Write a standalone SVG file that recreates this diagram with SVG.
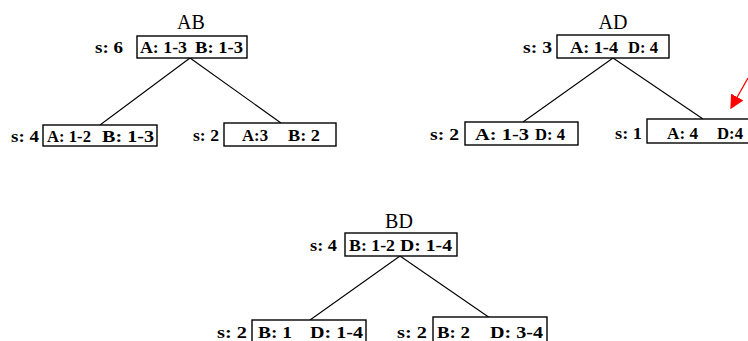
<svg xmlns="http://www.w3.org/2000/svg" width="748" height="341" viewBox="0 0 748 341">
  <style>
    .box { fill: #fff; stroke: #000; stroke-width: 1.4; }
    .lbl { font-family: "Liberation Serif", "Times New Roman", serif; font-size: 17px; font-weight: bold; fill: #000; }
    .ttl { font-family: "Liberation Serif", "Times New Roman", serif; font-size: 20px; fill: #000; text-anchor: middle; }
    .edge { stroke: #000; stroke-width: 1.1; fill: none; }
  </style>
  <defs>
    <marker id="redhead" viewBox="0 0 10 10" refX="9" refY="5" markerWidth="14" markerHeight="14" markerUnits="userSpaceOnUse" orient="auto">
      <path d="M0,0 L10,5 L0,10 z" fill="#ff0000"/>
    </marker>
  </defs>
  <rect width="748" height="341" fill="#fff"/>

  <!-- connectors -->
  <g id="edges">
    <line class="edge" x1="190" y1="58" x2="100" y2="125"/>
    <line class="edge" x1="190" y1="58" x2="281" y2="123"/>
    <line class="edge" x1="613" y1="58" x2="523" y2="122"/>
    <line class="edge" x1="613" y1="58" x2="703" y2="119"/>
    <line class="edge" x1="400" y1="256" x2="310" y2="320"/>
    <line class="edge" x1="400" y1="256" x2="490" y2="318"/>
    <line x1="748" y1="78" x2="731" y2="108" stroke="#ff0000" stroke-width="1.3" marker-end="url(#redhead)"/>
  </g>

  <!-- tree AB -->
  <g id="ab-title"><text class="ttl" x="191" y="29">AB</text></g>
  <g id="ab-root">
    <text class="lbl" x="95" y="53" textLength="28" lengthAdjust="spacingAndGlyphs">s: 6</text>
    <rect class="box" x="137" y="36" width="110" height="22"/>
    <text class="lbl" x="140" y="53" textLength="47" lengthAdjust="spacingAndGlyphs">A: 1-3</text>
    <text class="lbl" x="195" y="53" textLength="48" lengthAdjust="spacingAndGlyphs">B: 1-3</text>
  </g>
  <g id="ab-left">
    <text class="lbl" x="11" y="142" textLength="28" lengthAdjust="spacingAndGlyphs">s: 4</text>
    <rect class="box" x="43" y="125" width="114" height="21"/>
    <text class="lbl" x="47" y="142" textLength="44" lengthAdjust="spacingAndGlyphs">A: 1-2</text>
    <text class="lbl" x="102" y="142" textLength="52" lengthAdjust="spacingAndGlyphs">B: 1-3</text>
  </g>
  <g id="ab-right">
    <text class="lbl" x="193" y="141" textLength="26" lengthAdjust="spacingAndGlyphs">s: 2</text>
    <rect class="box" x="224" y="123" width="112" height="23"/>
    <text class="lbl" x="242" y="141" textLength="26" lengthAdjust="spacingAndGlyphs">A:3</text>
    <text class="lbl" x="288" y="141" textLength="32" lengthAdjust="spacingAndGlyphs">B: 2</text>
  </g>

  <!-- tree AD -->
  <g id="ad-title"><text class="ttl" x="613" y="29">AD</text></g>
  <g id="ad-root">
    <text class="lbl" x="523" y="53" textLength="29" lengthAdjust="spacingAndGlyphs">s: 3</text>
    <rect class="box" x="557" y="35" width="112" height="23"/>
    <text class="lbl" x="570" y="53" textLength="48" lengthAdjust="spacingAndGlyphs">A: 1-4</text>
    <text class="lbl" x="628" y="53" textLength="30" lengthAdjust="spacingAndGlyphs">D: 4</text>
  </g>
  <g id="ad-left">
    <text class="lbl" x="430" y="140" textLength="29" lengthAdjust="spacingAndGlyphs">s: 2</text>
    <rect class="box" x="465" y="122" width="113" height="23"/>
    <text class="lbl" x="475" y="140" textLength="54" lengthAdjust="spacingAndGlyphs">A: 1-3</text>
    <text class="lbl" x="535" y="140" textLength="30" lengthAdjust="spacingAndGlyphs">D: 4</text>
  </g>
  <g id="ad-right">
    <text class="lbl" x="615" y="139" textLength="27" lengthAdjust="spacingAndGlyphs">s: 1</text>
    <rect class="box" x="647" y="119" width="110" height="24"/>
    <text class="lbl" x="667" y="139" textLength="31" lengthAdjust="spacingAndGlyphs">A: 4</text>
    <text class="lbl" x="717" y="139" textLength="26" lengthAdjust="spacingAndGlyphs">D:4</text>
  </g>

  <!-- tree BD -->
  <g id="bd-title"><text class="ttl" x="399" y="228">BD</text></g>
  <g id="bd-root">
    <text class="lbl" x="310" y="251" textLength="27" lengthAdjust="spacingAndGlyphs">s: 4</text>
    <rect class="box" x="345" y="233" width="112" height="23"/>
    <text class="lbl" x="349" y="251" textLength="46" lengthAdjust="spacingAndGlyphs">B: 1-2</text>
    <text class="lbl" x="400" y="251" textLength="52" lengthAdjust="spacingAndGlyphs">D: 1-4</text>
  </g>
  <g id="bd-left">
    <text class="lbl" x="217" y="338" textLength="30" lengthAdjust="spacingAndGlyphs">s: 2</text>
    <rect class="box" x="252" y="320" width="114" height="30"/>
    <text class="lbl" x="258" y="338" textLength="34" lengthAdjust="spacingAndGlyphs">B: 1</text>
    <text class="lbl" x="310" y="338" textLength="53" lengthAdjust="spacingAndGlyphs">D: 1-4</text>
  </g>
  <g id="bd-right">
    <text class="lbl" x="397" y="338" textLength="30" lengthAdjust="spacingAndGlyphs">s: 2</text>
    <rect class="box" x="433" y="317" width="114" height="30"/>
    <text class="lbl" x="437" y="338" textLength="33" lengthAdjust="spacingAndGlyphs">B: 2</text>
    <text class="lbl" x="490" y="338" textLength="53" lengthAdjust="spacingAndGlyphs">D: 3-4</text>
  </g>
</svg>
